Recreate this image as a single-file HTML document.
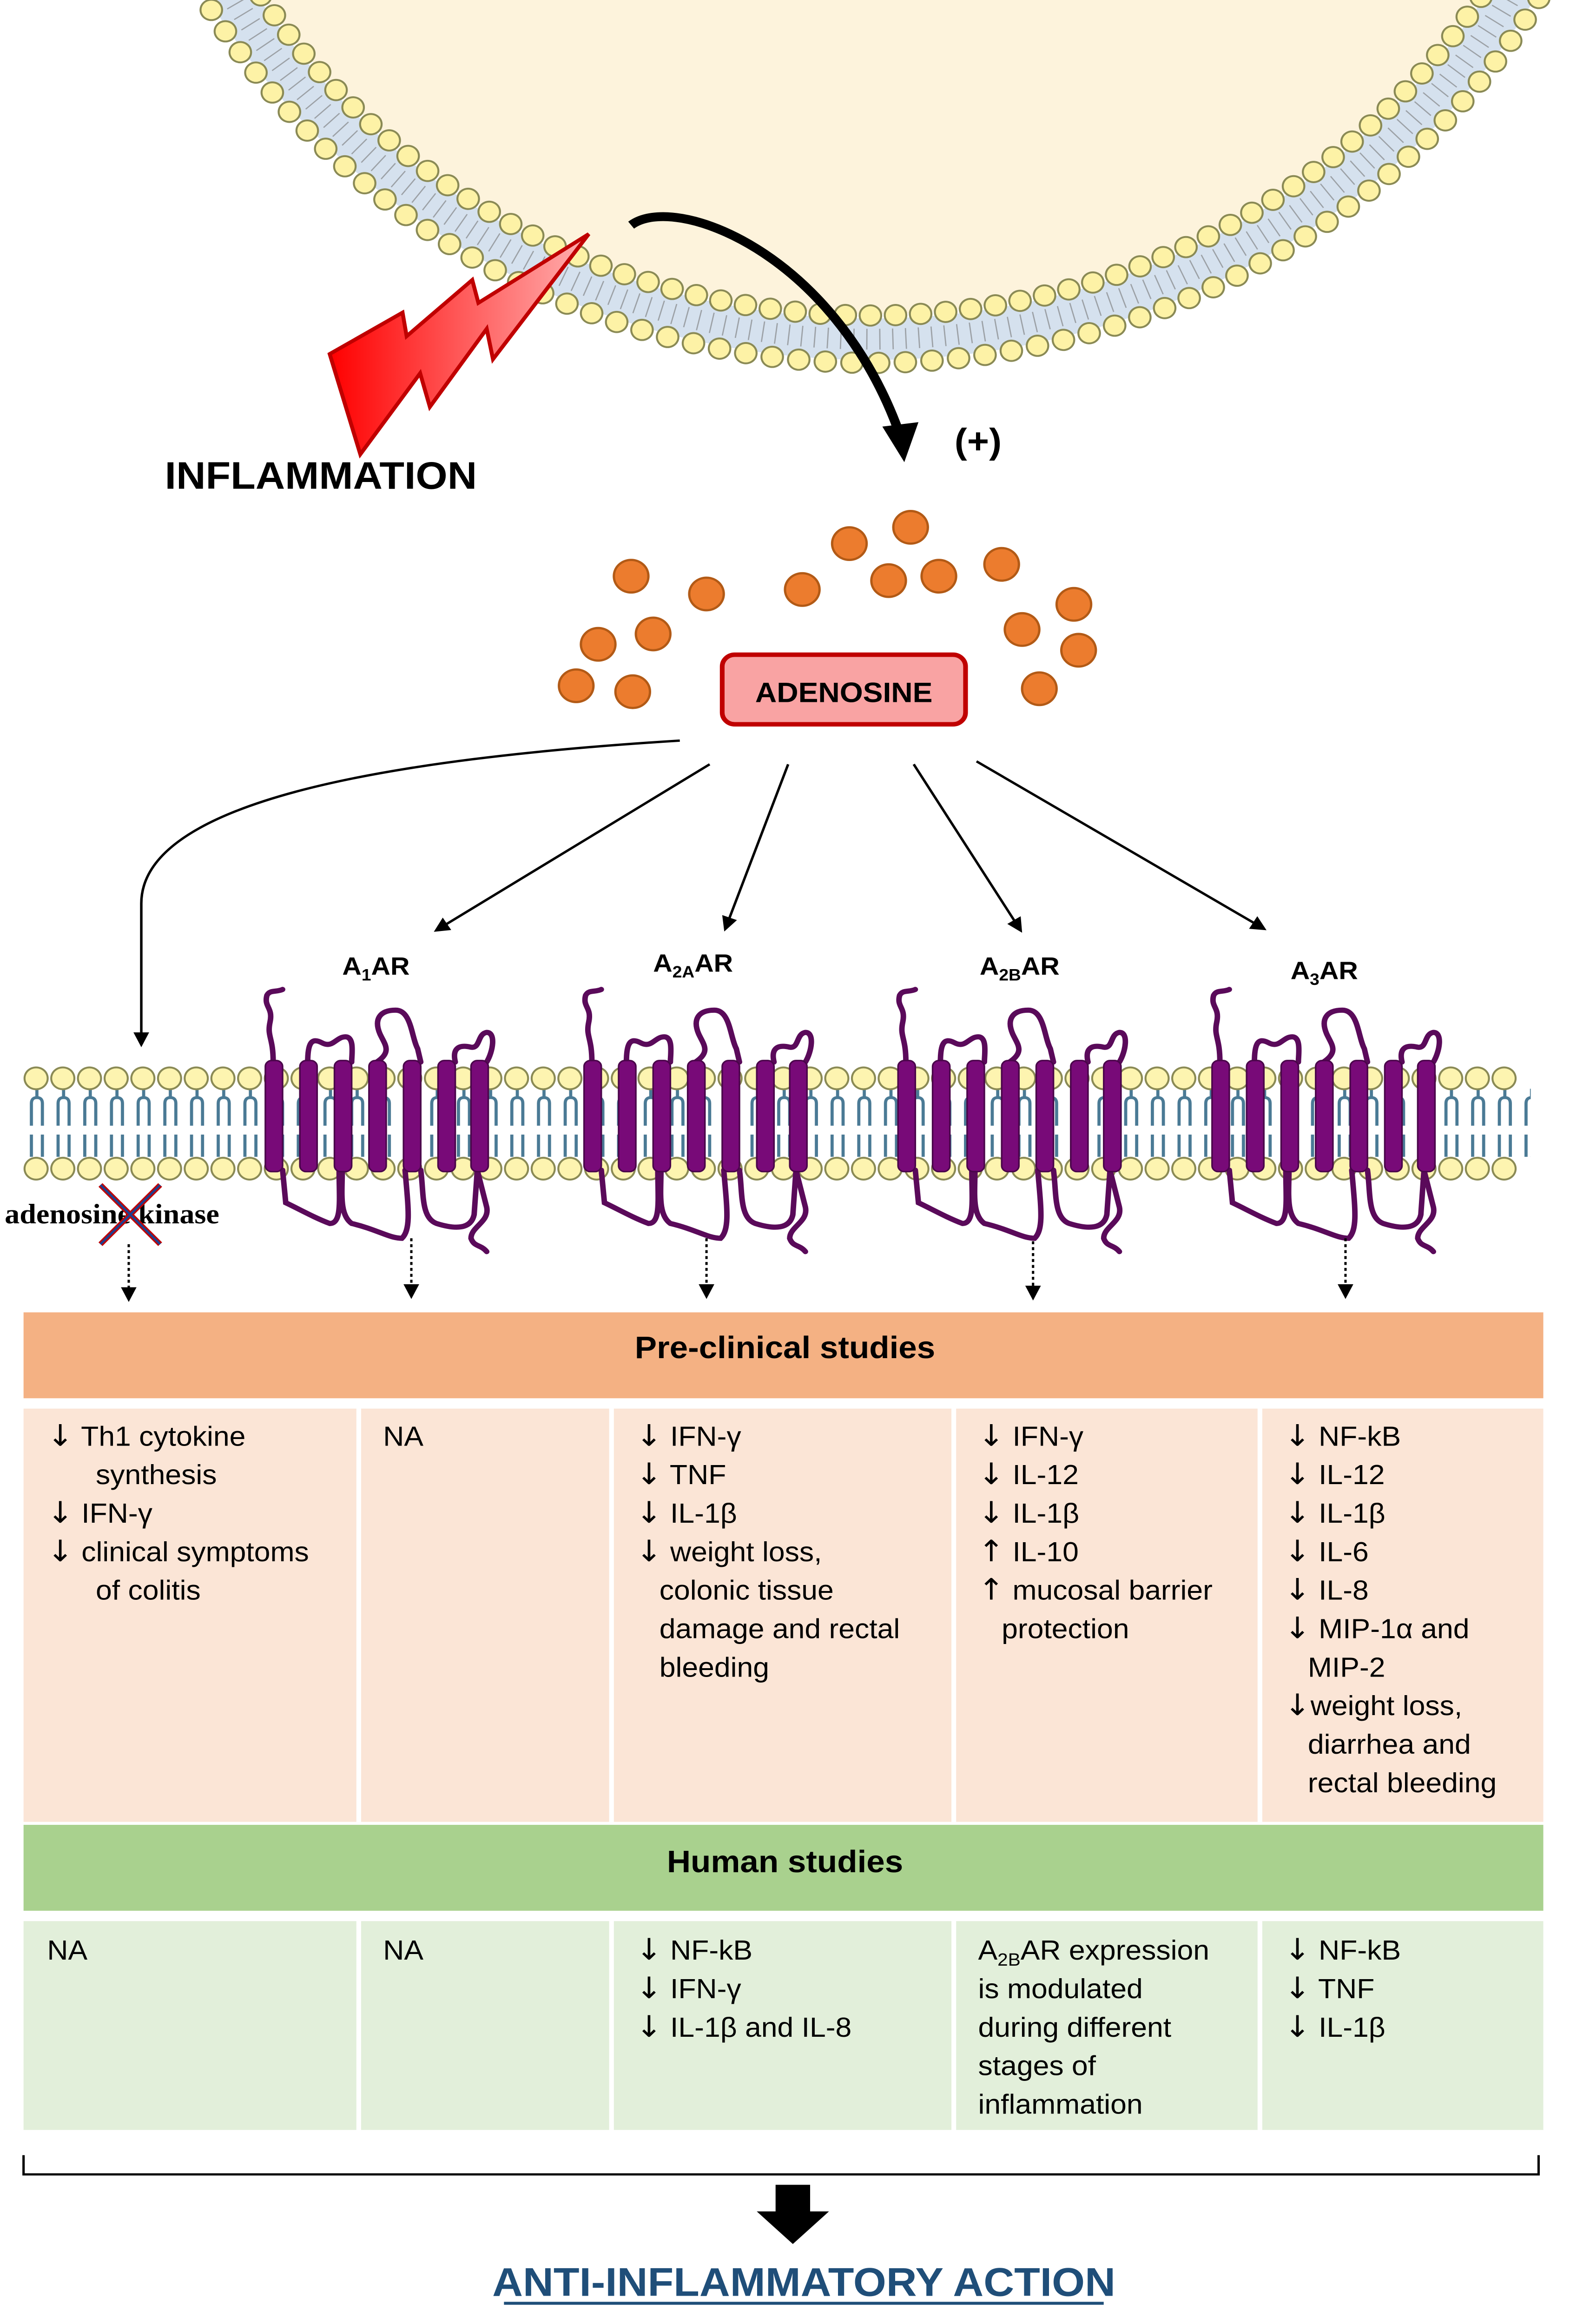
<!DOCTYPE html>
<html><head><meta charset="utf-8"><style>html,body{margin:0;padding:0;background:#fff;width:100%;height:100%;overflow:hidden}svg{display:block;position:fixed;left:0;top:0;width:100vw;height:100vh}text{font-family:"Liberation Sans",sans-serif}.a{font-family:"DejaVu Sans",sans-serif}</style></head><body>
<svg viewBox="0 0 1000 1569" preserveAspectRatio="none" xmlns="http://www.w3.org/2000/svg">
<defs>
<marker id="ah" markerWidth="10" markerHeight="10" refX="8" refY="5" orient="auto" markerUnits="userSpaceOnUse" viewBox="0 0 10 10"><path d="M0,0 L10,5 L0,10 z" fill="#000"/></marker>
<linearGradient id="bolt" x1="0" y1="0" x2="1" y2="0"><stop offset="0" stop-color="#ff0000"/><stop offset="1" stop-color="#ffb0b0"/></linearGradient>
<pattern id="tails" x="15" y="0" width="17" height="100" patternUnits="userSpaceOnUse">
<path d="M8.5,735 v6 M5,760 v-15 q0,-4 3.5,-4 q3.5,0 3.5,4 v15 M5,766 v15 q0,4 3.5,4 q3.5,0 3.5,-4 v-15 M8.5,785 v-4" stroke="#4a7a95" stroke-width="2" fill="none" transform="translate(0,-700)"/>
</pattern>
</defs>
<rect width="1000" height="1569" fill="#fff"/>
<clipPath id="topc"><rect x="0" y="0" width="1000" height="300"/></clipPath>
<g clip-path="url(#topc)">
<circle cx="555" cy="-245" r="474" fill="none" stroke="#d5e1ee" stroke-width="28"/>
<circle cx="555" cy="-245" r="474" fill="none" stroke="#777" stroke-width="14" stroke-dasharray="0.8 7.5" opacity="0.6"/>
<circle cx="555" cy="-245" r="457" fill="#fdf3dc"/>
<circle cx="555" cy="-245" r="490" fill="none" stroke="#8a8a55" stroke-width="15" stroke-dasharray="0 17" stroke-linecap="round"/>
<circle cx="555" cy="-245" r="490" fill="none" stroke="#fdf2a6" stroke-width="12.5" stroke-dasharray="0 17" stroke-linecap="round"/>
<circle cx="555" cy="-245" r="458" fill="none" stroke="#8a8a55" stroke-width="15" stroke-dasharray="0 16" stroke-linecap="round"/>
<circle cx="555" cy="-245" r="458" fill="none" stroke="#fdf2a6" stroke-width="12.5" stroke-dasharray="0 16" stroke-linecap="round"/>
</g>
<polygon points="375,158 304.7,204.5 300.8,189 259,227 256.4,211 210,239 229.5,306.7 267.6,252 273.8,274.7 310,222 314,242.5" fill="url(#bolt)" stroke="#c00000" stroke-width="2.5"/>
<text x="105" y="330" font-size="26" font-weight="bold">INFLAMMATION</text>
<path d="M402,152 C430,130 530,170 572,290" fill="none" stroke="#000" stroke-width="6"/>
<polygon points="562,288 585,285 576,312" fill="#000"/>
<text x="608" y="306" font-size="24" font-weight="bold">(+)</text>
<g fill="#ec7c2e" stroke="#b25a16" stroke-width="1.5">
<circle cx="402" cy="389" r="11"/><circle cx="450" cy="401" r="11"/><circle cx="381" cy="435" r="11"/><circle cx="416" cy="428" r="11"/><circle cx="367" cy="463" r="11"/><circle cx="403" cy="467" r="11"/><circle cx="511" cy="398" r="11"/><circle cx="541" cy="367" r="11"/><circle cx="580" cy="356" r="11"/><circle cx="566" cy="392" r="11"/><circle cx="598" cy="389" r="11"/><circle cx="638" cy="381" r="11"/><circle cx="684" cy="408" r="11"/><circle cx="651" cy="425" r="11"/><circle cx="687" cy="439" r="11"/><circle cx="662" cy="465" r="11"/>
</g>
<rect x="460" y="442" width="155" height="47" rx="8" fill="#f9a3a3" stroke="#c00000" stroke-width="3"/>
<text x="537.5" y="474" font-size="19" font-weight="bold" text-anchor="middle">ADENOSINE</text>
<g stroke="#000" stroke-width="1.6" fill="none" marker-end="url(#ah)">
<path d="M433,500 C250,512 90,540 90,610 L90,705"/>
<path d="M452,516 L278,628"/>
<path d="M502,516 L462,627"/>
<path d="M582,516 L650,628"/>
<path d="M622,514 L805,627"/>
</g>
<g font-size="17" font-weight="bold">
<text x="218" y="658">A<tspan font-size="11" dy="4">1</tspan><tspan dy="-4">AR</tspan></text>
<text x="416" y="656">A<tspan font-size="11" dy="4">2A</tspan><tspan dy="-4">AR</tspan></text>
<text x="624" y="658">A<tspan font-size="11" dy="4">2B</tspan><tspan dy="-4">AR</tspan></text>
<text x="822" y="661">A<tspan font-size="11" dy="4">3</tspan><tspan dy="-4">AR</tspan></text>
</g>
<rect x="15" y="735" width="960" height="46" fill="url(#tails)"/>
<line x1="23" y1="728" x2="975" y2="728" stroke="#8a8a55" stroke-width="16" stroke-dasharray="0 17" stroke-linecap="round"/>
<line x1="23" y1="728" x2="975" y2="728" stroke="#fdf4b0" stroke-width="13.5" stroke-dasharray="0 17" stroke-linecap="round"/>
<line x1="23" y1="789" x2="975" y2="789" stroke="#8a8a55" stroke-width="16" stroke-dasharray="0 17" stroke-linecap="round"/>
<line x1="23" y1="789" x2="975" y2="789" stroke="#fdf4b0" stroke-width="13.5" stroke-dasharray="0 17" stroke-linecap="round"/>
<g id="rec">
<g fill="none" stroke="#5a0a5a" stroke-width="3.5" stroke-linecap="round">
<path d="M174,717 C174,700 170,700 172,690 C174,680 168,680 170,672 C172,668 176,670 180,668"/>
<path d="M196,717 C196,705 198,700 205,704 C212,708 214,700 220,700 C226,700 224,712 224,717"/>
<path d="M240,717 C250,710 245,705 242,698 C238,688 242,682 252,682 C262,682 262,700 266,708 L268,717"/>
<path d="M290,717 C288,708 292,705 300,707 C306,708 304,698 310,697 C316,697 314,710 310,717"/>
<path d="M180,790 L182,812 C190,816 200,822 210,826 C218,826 216,810 216,790"/>
<path d="M218,790 C218,805 216,820 224,826 C240,830 248,836 256,836 C262,830 260,815 258,790"/>
<path d="M268,790 C270,805 268,822 278,826 C290,830 300,830 302,820 L304,790"/>
<path d="M304,790 L310,815 C312,825 300,828 300,836 C302,842 306,840 310,845"/>
</g>
<g fill="#780a78" stroke="#4a054a" stroke-width="1">
<rect x="169" y="716" width="11" height="75" rx="4"/><rect x="191" y="716" width="11" height="75" rx="4"/><rect x="213" y="716" width="11" height="75" rx="4"/><rect x="235" y="716" width="11" height="75" rx="4"/><rect x="257" y="716" width="11" height="75" rx="4"/><rect x="279" y="716" width="11" height="75" rx="4"/><rect x="300" y="716" width="11" height="75" rx="4"/>
</g>
</g>
<use href="#rec" x="203"/>
<use href="#rec" x="403"/>
<use href="#rec" x="603"/>
<text x="3" y="826" font-size="19" font-weight="bold" style="font-family:'Liberation Serif',serif">adenosine kinase</text>
<g stroke="#c00000" stroke-width="3.5"><line x1="64" y1="800" x2="102" y2="840"/><line x1="102" y1="800" x2="64" y2="840"/></g>
<g stroke="#1f3f8f" stroke-width="1.5"><line x1="64" y1="800" x2="102" y2="840"/><line x1="102" y1="800" x2="64" y2="840"/></g>
<g stroke="#000" stroke-width="1.5" stroke-dasharray="2 2" marker-end="url(#ah)">
<line x1="82" y1="840" x2="82" y2="877"/><line x1="262" y1="836" x2="262" y2="875"/><line x1="450" y1="836" x2="450" y2="875"/><line x1="658" y1="838" x2="658" y2="876"/><line x1="857" y1="836" x2="857" y2="875"/>
</g>
<rect x="15" y="886" width="968" height="58" fill="#f4b183"/>
<text x="500" y="917" font-size="21" font-weight="bold" text-anchor="middle">Pre-clinical studies</text>
<g fill="#fbe5d6">
<rect x="15" y="951" width="212" height="279"/><rect x="230" y="951" width="158" height="279"/><rect x="391" y="951" width="215" height="279"/><rect x="609" y="951" width="192" height="279"/><rect x="804" y="951" width="179" height="279"/>
</g>
<rect x="15" y="1232" width="968" height="58" fill="#a9d18e"/>
<text x="500" y="1264" font-size="21" font-weight="bold" text-anchor="middle">Human studies</text>
<g fill="#e2efda">
<rect x="15" y="1297" width="212" height="141"/><rect x="230" y="1297" width="158" height="141"/><rect x="391" y="1297" width="215" height="141"/><rect x="609" y="1297" width="192" height="141"/><rect x="804" y="1297" width="179" height="141"/>
</g>
<g font-size="18.5">
<text x="30" y="976"><tspan class="a" font-size="20">↓</tspan> Th1 cytokine</text><text x="61" y="1002">synthesis</text><text x="30" y="1028"><tspan class="a" font-size="20">↓</tspan> IFN-γ</text><text x="30" y="1054"><tspan class="a" font-size="20">↓</tspan> clinical symptoms</text><text x="61" y="1080">of colitis</text>
<text x="244" y="976">NA</text>
<text x="405" y="976"><tspan class="a" font-size="20">↓</tspan> IFN-γ</text><text x="405" y="1002"><tspan class="a" font-size="20">↓</tspan> TNF</text><text x="405" y="1028"><tspan class="a" font-size="20">↓</tspan> IL-1β</text><text x="405" y="1054"><tspan class="a" font-size="20">↓</tspan> weight loss,</text><text x="420" y="1080">colonic tissue</text><text x="420" y="1106">damage  and rectal</text><text x="420" y="1132">bleeding</text>
<text x="623" y="976"><tspan class="a" font-size="20">↓</tspan> IFN-γ</text><text x="623" y="1002"><tspan class="a" font-size="20">↓</tspan> IL-12</text><text x="623" y="1028"><tspan class="a" font-size="20">↓</tspan> IL-1β</text><text x="623" y="1054"><tspan class="a" font-size="20">↑</tspan> IL-10</text><text x="623" y="1080"><tspan class="a" font-size="20">↑</tspan> mucosal barrier</text><text x="638" y="1106">protection</text>
<text x="818" y="976"><tspan class="a" font-size="20">↓</tspan> NF-kB</text><text x="818" y="1002"><tspan class="a" font-size="20">↓</tspan> IL-12</text><text x="818" y="1028"><tspan class="a" font-size="20">↓</tspan> IL-1β</text><text x="818" y="1054"><tspan class="a" font-size="20">↓</tspan> IL-6</text><text x="818" y="1080"><tspan class="a" font-size="20">↓</tspan> IL-8</text><text x="818" y="1106"><tspan class="a" font-size="20">↓</tspan> MIP-1α and</text><text x="833" y="1132">MIP-2</text><text x="818" y="1158"><tspan class="a" font-size="20">↓</tspan>weight loss,</text><text x="833" y="1184">diarrhea and</text><text x="833" y="1210">rectal bleeding</text>
<text x="30" y="1323">NA</text><text x="244" y="1323">NA</text>
<text x="405" y="1323"><tspan class="a" font-size="20">↓</tspan> NF-kB</text><text x="405" y="1349"><tspan class="a" font-size="20">↓</tspan> IFN-γ</text><text x="405" y="1375"><tspan class="a" font-size="20">↓</tspan> IL-1β and IL-8</text>
<text x="623" y="1323">A<tspan font-size="12" dy="4">2B</tspan><tspan dy="-4">AR expression</tspan></text><text x="623" y="1349">is modulated</text><text x="623" y="1375">during different</text><text x="623" y="1401">stages of</text><text x="623" y="1427">inflammation</text>
<text x="818" y="1323"><tspan class="a" font-size="20">↓</tspan> NF-kB</text><text x="818" y="1349"><tspan class="a" font-size="20">↓</tspan> TNF</text><text x="818" y="1375"><tspan class="a" font-size="20">↓</tspan> IL-1β</text>
</g>
<path d="M15,1455 V1468 H980 V1455" fill="none" stroke="#000" stroke-width="1.5"/>
<polygon points="494,1475 516,1475 516,1493 528,1493 505,1515 482,1493 494,1493" fill="#000"/>
<text x="512" y="1550" font-size="27" font-weight="bold" fill="#1f4e79" text-anchor="middle">ANTI-INFLAMMATORY ACTION</text>
<line x1="321" y1="1555" x2="703" y2="1555" stroke="#1f4e79" stroke-width="2"/>
</svg>
</body></html>
